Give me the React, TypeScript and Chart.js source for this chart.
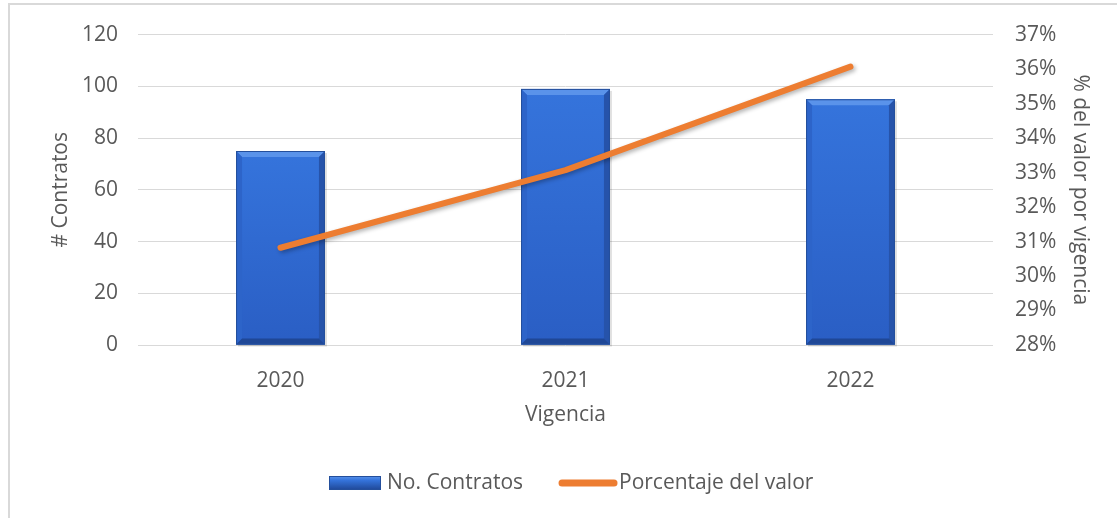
import React, { useEffect, useRef } from "react";
import { Chart, registerables } from "chart.js";

Chart.register(...registerables);

const categories = ["2020", "2021", "2022"];
const contratos = [75, 99, 95];
const porcentaje = [30.82, 33.07, 36.07];
const leftTicks = { min: 0, max: 120, step: 20 };
const rightTicks = { min: 28, max: 37, step: 1 };
const xTitle = "Vigencia";
const leftTitle = "# Contratos";
const rightTitle = "% del valor por vigencia";
const barLabel = "No. Contratos";
const lineLabel = "Porcentaje del valor";

const FONT = "'Open Sans', sans-serif";
const FS = 21;
const TEXT = "#595959";
const BLUE = "#2f6bd3";
const ORANGE = "#ED7D31";

const bevelPlugin = {
  id: "bevel",
  afterDatasetDraw(chart: any, args: any) {
    if (args.index !== 0) return;
    const ctx = chart.ctx;
    const meta = chart.getDatasetMeta(0);
    meta.data.forEach((el: any) => {
      const { x, y, base, width } = el.getProps(["x", "y", "base", "width"], true);
      const l = x - width / 2;
      const r = x + width / 2;
      const t = Math.min(y, base);
      const btm = Math.max(y, base);
      const b = 6;
      ctx.save();
      ctx.fillStyle = "rgba(0,0,0,0.12)";
      ctx.fillRect(l + 2, t + 2, width, btm - t);
      const g = ctx.createLinearGradient(0, t, 0, btm);
      g.addColorStop(0, "#3574dc");
      g.addColorStop(1, "#2a5ec4");
      ctx.fillStyle = g;
      ctx.fillRect(l, t, width, btm - t);
      const poly = (pts: number[][], color: any) => {
        ctx.beginPath();
        ctx.moveTo(pts[0][0], pts[0][1]);
        for (let i = 1; i < pts.length; i++) ctx.lineTo(pts[i][0], pts[i][1]);
        ctx.closePath();
        ctx.fillStyle = color;
        ctx.fill();
      };
      poly([[l, t], [r, t], [r - b, t + b], [l + b, t + b]], "#5a93ea");
      poly([[l, t], [l + b, t + b], [l + b, btm - b], [l, btm]], "#2d64c9");
      poly([[r, t], [r - b, t + b], [r - b, btm - b], [r, btm]], "#2653aa");
      poly([[l, btm], [l + b, btm - b], [r - b, btm - b], [r, btm]], "#1f4796");
      ctx.strokeStyle = "#244f9c";
      ctx.lineWidth = 1;
      ctx.strokeRect(l + 0.5, t + 0.5, width - 1, btm - t - 1);
      ctx.restore();
    });
  },
};

const shadowLinePlugin = {
  id: "shadowLine",
  beforeDatasetDraw(chart: any, args: any) {
    if (args.index !== 1) return;
    const ctx = chart.ctx;
    ctx.save();
    ctx.shadowColor = "rgba(0,0,0,0.3)";
    ctx.shadowBlur = 4;
    ctx.shadowOffsetX = 2;
    ctx.shadowOffsetY = 2;
  },
  afterDatasetDraw(chart: any, args: any) {
    if (args.index !== 1) return;
    chart.ctx.restore();
  },
};

const legendPlugin = {
  id: "customLegend",
  afterDraw(chart: any) {
    const ctx = chart.ctx;
    ctx.save();
    ctx.font = `${FS}px ${FONT}`;
    ctx.textBaseline = "middle";
    ctx.fillStyle = TEXT;
    const labels = chart.data.datasets.map((d: any) => d.label);
    const sw = 52;
    const gap = 6;
    const itemGap = 36;
    const widths = labels.map((s: string) => ctx.measureText(s).width);
    const cy = 483;
    let x = 329;
    const h = 14;
    const g = ctx.createLinearGradient(0, cy - h / 2, 0, cy + h / 2);
    g.addColorStop(0, "#5a93ea");
    g.addColorStop(0.3, "#3574dc");
    g.addColorStop(1, "#1f4796");
    ctx.fillStyle = g;
    ctx.fillRect(x, cy - h / 2, sw, h);
    ctx.strokeStyle = "#244f9c";
    ctx.lineWidth = 1;
    ctx.strokeRect(x + 0.5, cy - h / 2 + 0.5, sw - 1, h - 1);
    x += sw + gap;
    ctx.fillStyle = TEXT;
    ctx.fillText(labels[0], x, cy);
    x += widths[0] + itemGap;
    ctx.strokeStyle = ORANGE;
    ctx.lineWidth = 7;
    ctx.lineCap = "round";
    ctx.beginPath();
    ctx.moveTo(x + 3, cy);
    ctx.lineTo(x + sw + 3, cy);
    ctx.stroke();
    x += sw + gap + 2;
    ctx.fillText(labels[1], x, cy);
    ctx.restore();
  },
};

export default function App() {
  const ref = useRef<HTMLCanvasElement>(null);
  useEffect(() => {
    if (!ref.current) return;
    const chart = new Chart(ref.current, {
      type: "bar",
      data: {
        labels: categories,
        datasets: [
          {
            type: "bar",
            label: barLabel,
            data: contratos,
            backgroundColor: BLUE,
            yAxisID: "y",
            order: 1,
            barPercentage: 0.312,
            categoryPercentage: 1,
          },
          {
            type: "line",
            label: lineLabel,
            data: porcentaje,
            borderColor: ORANGE,
            backgroundColor: ORANGE,
            borderWidth: 6,
            borderCapStyle: "round",
            borderJoinStyle: "round",
            pointRadius: 0,
            tension: 0,
            yAxisID: "y1",
            order: 0,
          },
        ],
      } as any,
      options: {
        responsive: false,
        devicePixelRatio: 1,
        animation: false,
        layout: { padding: { left: 48, right: 24, top: 33, bottom: 90 } },
        plugins: { legend: { display: false }, tooltip: { enabled: false } },
        scales: {
          x: {
            grid: { display: false },
            border: { display: false },
            ticks: { color: TEXT, font: { family: FONT, size: FS }, padding: 15 },
            title: {
              display: true,
              text: xTitle,
              color: TEXT,
              font: { family: FONT, size: FS },
              padding: 0,
            },
            afterFit: (s: any) => {
              s.height = 83;
            },
          },
          y: {
            position: "left",
            min: leftTicks.min,
            max: leftTicks.max,
            ticks: {
              stepSize: leftTicks.step,
              color: TEXT,
              font: { family: FONT, size: FS },
              padding: 20,
            },
            grid: { color: "#d9d9d9", lineWidth: 1, drawTicks: false },
            border: { display: false },
            title: {
              display: true,
              text: leftTitle,
              color: TEXT,
              font: { family: FONT, size: FS },
              padding: 0,
            },
            afterFit: (s: any) => {
              s.width = 90;
            },
          },
          y1: {
            position: "right",
            min: rightTicks.min,
            max: rightTicks.max,
            ticks: {
              stepSize: rightTicks.step,
              color: TEXT,
              font: { family: FONT, size: FS },
              padding: 22,
              callback: (v: any) => `${v}%`,
            },
            grid: { display: false, drawTicks: false },
            border: { display: false },
            title: {
              display: true,
              text: rightTitle,
              color: TEXT,
              font: { family: FONT, size: FS },
              padding: 0,
            },
            afterFit: (s: any) => {
              s.width = 100;
            },
          },
        },
      } as any,
      plugins: [bevelPlugin, shadowLinePlugin, legendPlugin],
    });
    return () => chart.destroy();
  }, []);

  return (
    <div
      style={{
        position: "fixed",
        left: 0,
        top: 0,
        width: 1117,
        height: 518,
        overflow: "hidden",
        background: "#fff",
      }}
    >
      <canvas
        ref={ref}
        width={1117}
        height={518}
        style={{ position: "absolute", left: 0, top: 0, width: 1117, height: 518 }}
      />
      <div
        style={{
          position: "absolute",
          left: 8,
          top: 3,
          width: 1200,
          height: 600,
          border: "2px solid #d9d9d9",
          boxSizing: "border-box",
          pointerEvents: "none",
        }}
      />
    </div>
  );
}
